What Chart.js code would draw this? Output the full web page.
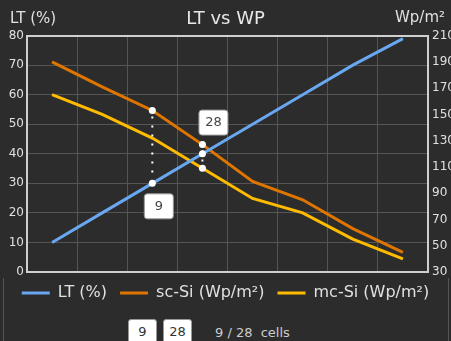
<!DOCTYPE html>
<html>
<head>
<meta charset="utf-8">
<script src="https://cdn.jsdelivr.net/npm/chart.js"></script>
<style>
body{margin:0;background:#2c2c2c;width:451px;height:341px;overflow:hidden;position:relative;font-family:"DejaVu Sans",sans-serif;}
#wrap{position:absolute;left:0;top:0;width:451px;height:311px;}
#panel{position:absolute;left:3px;top:278px;width:444px;height:80px;border-left:1px solid #555;border-right:1px solid #555;}
.cell{position:absolute;top:319px;width:27px;height:24px;background:#fff;border:1px solid #999;border-radius:3px;color:#333;font-size:13px;line-height:24px;text-align:center;}
#cellsText{position:absolute;left:215px;top:325px;color:#ccc;font-size:13px;white-space:pre;}
</style>
</head>
<body>
<div id="panel"></div>
<div id="wrap"><canvas id="chart" width="451" height="311"></canvas></div>
<div class="cell" id="cellA" style="left:128px"></div>
<div class="cell" id="cellB" style="left:163px"></div>
<div id="cellsText"></div>
<script>
// data
const categories = ['1','2','3','4','5','6','7','8'];
const ltValues = [10, 20, 30, 40, 50, 60, 70, 79];
const scSiValues = [190, 171, 153, 127, 99, 85, 63, 45];
const mcSiValues = [165, 150, 132, 109, 86, 75, 55, 40];
const ltTicks = [0, 80, 10];      // min, max, step
const wpTicks = [30, 210, 20];

// highlighted columns and their labels
const markerIndex = [2, 3];
const markerLabels = ['9', '28'];
const markerPlace = ['below', 'above'];
const dotsLT = [2, 3];
const dotsSc = [2, 3];
const dotsMc = [3];

const gridColor = '#555';
const edgeColor = '#cfcfcf';
const font = '"DejaVu Sans", sans-serif';

function radii(list){
  return categories.map((c, i) => list.includes(i) ? 3.5 : 0);
}

document.getElementById('cellA').textContent = markerLabels[0];
document.getElementById('cellB').textContent = markerLabels[1];
document.getElementById('cellsText').textContent = markerLabels[0] + ' / ' + markerLabels[1] + '  cells';

const headerPlugin = {
  id: 'headers',
  afterDraw(chart){
    const ctx = chart.ctx;
    const a = chart.chartArea;
    ctx.save();
    ctx.font = '15px ' + font;
    ctx.fillStyle = '#e0e0e0';
    ctx.textBaseline = 'middle';
    ctx.textAlign = 'left';
    ctx.fillText('LT (%)', a.left - 17, a.top - 16);
    ctx.fillText('Wp/m\u00b2', a.right - 33, a.top - 17);
    ctx.restore();
  }
};

const markerPlugin = {
  id: 'markers',
  afterDatasetsDraw(chart){
    const ctx = chart.ctx;
    markerIndex.forEach((idx, k) => {
      const ys = [];
      let px = 0;
      chart.data.datasets.forEach((ds, d) => {
        const pt = chart.getDatasetMeta(d).data[idx];
        px = pt.x;
        if(ds.pointRadius[idx] > 0) ys.push(pt.y);
      });
      const top = Math.min(...ys);
      const bot = Math.max(...ys);

      ctx.save();
      ctx.strokeStyle = '#ffffff';
      ctx.lineWidth = 2;
      ctx.setLineDash([2, 7]);
      ctx.beginPath();
      ctx.moveTo(px, top + 6);
      ctx.lineTo(px, bot - 4);
      ctx.stroke();
      ctx.setLineDash([]);

      // label box
      const w = 29, h = 25;
      const bx = px + (k === 0 ? 6 : 10.5) - w / 2;
      const by = markerPlace[k] === 'below' ? bot + 10 : top - 10 - h;
      ctx.fillStyle = '#ffffff';
      ctx.strokeStyle = '#9a9a9a';
      ctx.lineWidth = 1;
      ctx.beginPath();
      ctx.roundRect(bx + 0.5, by + 0.5, w, h, 3);
      ctx.fill();
      ctx.stroke();
      ctx.fillStyle = '#444';
      ctx.font = '13px ' + font;
      ctx.textAlign = 'center';
      ctx.textBaseline = 'middle';
      ctx.fillText(markerLabels[k], bx + w / 2 + 0.5, by + h / 2 + 1);
      ctx.restore();
    });
  }
};

new Chart(document.getElementById('chart'), {
  type: 'line',
  data: {
    labels: categories,
    datasets: [{
      label: 'LT (%)',
      data: ltValues,
      yAxisID: 'y',
      borderColor: '#69a7f0',
      backgroundColor: '#69a7f0',
      borderWidth: 3,
      pointRadius: radii(dotsLT),
      pointBackgroundColor: '#ffffff',
      pointBorderWidth: 0,
      tension: 0
    }, {
      label: 'sc-Si (Wp/m\u00b2)',
      data: scSiValues,
      yAxisID: 'y1',
      borderColor: '#dd7500',
      backgroundColor: '#dd7500',
      borderWidth: 3,
      pointRadius: radii(dotsSc),
      pointBackgroundColor: '#ffffff',
      pointBorderWidth: 0,
      tension: 0
    }, {
      label: 'mc-Si (Wp/m\u00b2)',
      data: mcSiValues,
      yAxisID: 'y1',
      borderColor: '#ffbb00',
      backgroundColor: '#ffbb00',
      borderWidth: 3,
      pointRadius: radii(dotsMc),
      pointBackgroundColor: '#ffffff',
      pointBorderWidth: 0,
      tension: 0
    }]
  },
  options: {
    responsive: false,
    animation: false,
    events: [],
    layout: { padding: 0 },
    plugins: {
      title: {
        display: true,
        text: 'LT vs WP',
        color: '#e8e8e8',
        font: { family: font, size: 18, weight: 'normal' },
        padding: { top: 9, bottom: 5 }
      },
      legend: {
        position: 'bottom',
        labels: {
          color: '#e0e0e0',
          font: { family: font, size: 16, lineHeight: 1 },
          boxWidth: 28,
          boxHeight: 3,
          padding: 13,
          generateLabels: c => Chart.defaults.plugins.legend.labels.generateLabels(c).map(l => ({...l, lineWidth: 0}))
        }
      },
      tooltip: { enabled: false }
    },
    scales: {
      x: {
        type: 'category',
        offset: true,
        grid: { offset: true, color: gridColor, drawTicks: false },
        border: { color: edgeColor, width: 2 },
        ticks: { display: false }
      },
      y: {
        position: 'left',
        min: ltTicks[0],
        max: ltTicks[1],
        ticks: { stepSize: ltTicks[2], color: '#e0e0e0', padding: 3, font: { family: font, size: 12 } },
        grid: {
          drawTicks: false,
          color: c => c.tick && c.tick.value === ltTicks[1] ? edgeColor : gridColor,
          lineWidth: c => c.tick && c.tick.value === ltTicks[1] ? 2 : 1
        },
        border: { color: edgeColor, width: 2 },
        afterFit: s => { s.width = 27; }
      },
      y1: {
        position: 'right',
        min: wpTicks[0],
        max: wpTicks[1],
        ticks: { stepSize: wpTicks[2], color: '#e0e0e0', padding: 4, font: { family: font, size: 12 } },
        grid: { drawOnChartArea: false, drawTicks: false },
        border: { color: edgeColor, width: 2 },
        afterFit: s => { s.width = 23; }
      }
    }
  },
  plugins: [headerPlugin, markerPlugin]
});
</script>
</body>
</html>
